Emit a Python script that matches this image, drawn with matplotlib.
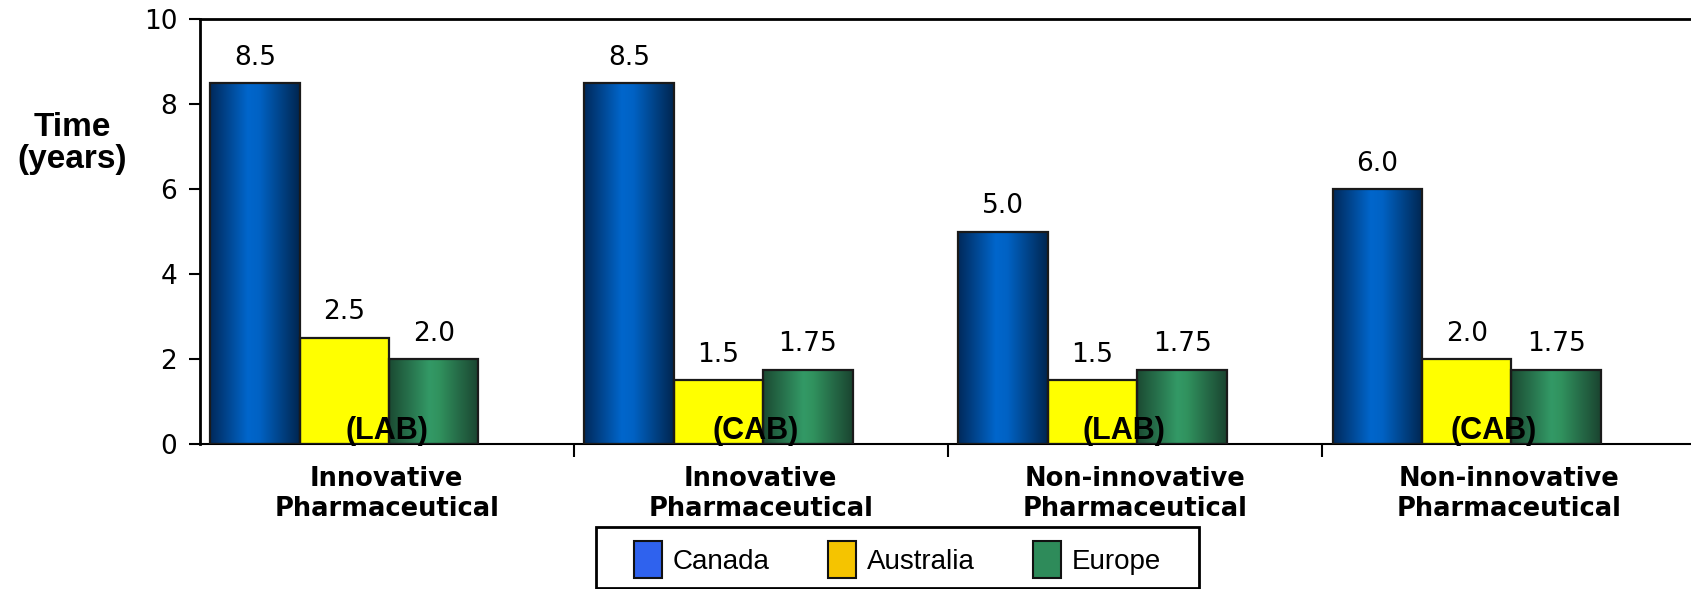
import numpy as np
import matplotlib
matplotlib.use('Agg')
from matplotlib import pyplot as plt
from matplotlib.colors import LinearSegmentedColormap
from matplotlib.patches import Patch, Rectangle

plt.rcParams['font.family'] = ['Liberation Sans', 'DejaVu Sans']

# chart data
categories = ['Innovative\nPharmaceutical', 'Innovative\nPharmaceutical',
              'Non-innovative\nPharmaceutical', 'Non-innovative\nPharmaceutical']
boards = ['(LAB)', '(CAB)', '(LAB)', '(CAB)']
series_names = ['Canada', 'Australia', 'Europe']
canada = [8.5, 8.5, 5.0, 6.0]
australia = [2.5, 1.5, 1.5, 2.0]
europe = [2.0, 1.75, 1.75, 1.75]
y_ticks = [0, 2, 4, 6, 8, 10]


def fmt(v):
    # 2.00 -> 2.0, 1.75 -> 1.75
    s = '%.2f' % v
    if s.endswith('0'):
        s = s[:-1]
    return s


# colours: edge-dark / centre-bright gradients like the original 3d-ish bars
canada_cmap = LinearSegmentedColormap.from_list(
    'canada', [(0, '#00295a'), (0.42, '#0066cc'), (0.55, '#0062c4'), (1, '#002650')])
europe_cmap = LinearSegmentedColormap.from_list(
    'europe', [(0, '#1b4a32'), (0.45, '#339966'), (0.55, '#31935f'), (1, '#1a4430')])
legend_colors = ['#2f62ee', '#f5c400', '#2e8b5a']

fig = plt.figure(figsize=(16.91, 5.89), dpi=100)
ax = fig.add_axes([0.118, 0.2462, 0.885, 0.7208])

x = np.arange(len(categories))
width = 0.239
offsets = [-0.352, -0.113, 0.126]
values = [canada, australia, europe]
fills = ['#0066cc', '#ffff00', '#339966']
cmaps = [canada_cmap, None, europe_cmap]

grad = np.linspace(0, 1, 256).reshape(1, -1)
for vals, off, fill, cmap in zip(values, offsets, fills, cmaps):
    bars = ax.bar(x + off, vals, width, color=fill, linewidth=0, zorder=2)
    if cmap is not None:
        for b in bars:
            im = ax.imshow(grad, cmap=cmap, aspect='auto', zorder=2.5,
                           extent=(b.get_x(), b.get_x() + b.get_width(), 0, b.get_height()))
            im.set_clip_path(b)
    ax.bar(x + off, vals, width, fill=False, edgecolor='#1a1a1a', linewidth=1.6, zorder=3)
    for xi, v in zip(x + off, vals):
        ax.annotate(fmt(v), (xi, v), xytext=(0, 9), textcoords='offset points',
                    ha='center', va='bottom', fontsize=19, family='DejaVu Sans', zorder=4)

# board labels sitting on the baseline
for i, lab in enumerate(boards):
    ax.text(i - 0.014 * i, 0.12, lab, ha='center', va='baseline',
            fontsize=22, fontweight='bold', zorder=5)

ax.set_xlim(-0.5, 3.5)
ax.set_ylim(0, 10)
ax.set_yticks(y_ticks)
ax.set_yticklabels([str(t) for t in y_ticks], family='DejaVu Sans')
ax.tick_params(axis='y', direction='out', length=8, width=1.5, pad=8, labelsize=19)
ax.set_xticks(x)
ax.set_xticklabels(categories, fontsize=18.5, fontweight='bold', linespacing=1.18,
                   family='DejaVu Sans')
ax.set_xticks(np.arange(0.5, 3.5, 1.0), minor=True)
ax.tick_params(axis='x', which='major', length=0, pad=16)
ax.tick_params(axis='x', which='minor', direction='out', length=9, width=1.5)

for side in ['left', 'top']:
    ax.spines[side].set_linewidth(2)
ax.spines['bottom'].set_linewidth(1.5)
ax.spines['right'].set_visible(False)

fig.text(0.0426, 0.757, 'Time\n(years)', ha='center', va='center',
         fontsize=24, fontweight='bold', linespacing=1.05)

# legend box drawn separately so its padding can differ horizontally and vertically
fig.patches.append(Rectangle((596 / 1691, 1 / 589), 603 / 1691, 61 / 589,
                             transform=fig.transFigure, fill=False,
                             edgecolor='black', linewidth=2))
handles = [Patch(facecolor=c, edgecolor='#111111', linewidth=1.5) for c in legend_colors]
leg = fig.legend(handles, series_names, loc='center', ncol=3,
                 bbox_to_anchor=(0.5308, 0.05),
                 fontsize=20, frameon=False,
                 handlelength=1.0, handleheight=1.65, handletextpad=0.4,
                 columnspacing=2.1, borderpad=0.2, borderaxespad=0)

fig.savefig('out.png', dpi=100)
